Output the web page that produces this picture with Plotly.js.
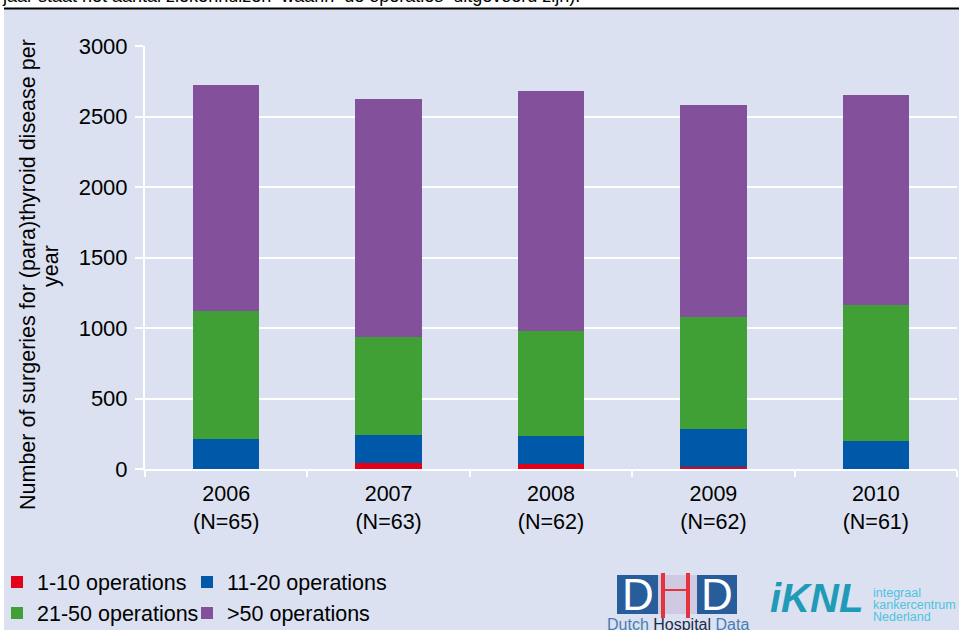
<!DOCTYPE html>
<html>
<head>
<meta charset="utf-8">
<script src="https://cdn.plot.ly/plotly-3.0.1.min.js"></script>
<style>
  html, body { margin: 0; padding: 0; background: #ffffff; }
  #chart { width: 959px; height: 630px; }
</style>
</head>
<body>
<div id="chart"></div>
<script>
// ---- data ----
const categories = ["2006<br>(N=65)", "2007<br>(N=63)", "2008<br>(N=62)", "2009<br>(N=62)", "2010<br>(N=61)"];
const ops_1_10   = [0, 44, 32, 12, 0];
const ops_11_20  = [216, 200, 200, 275, 202];
const ops_21_50  = [906, 694, 749, 793, 963];
const ops_gt50   = [1601, 1686, 1700, 1501, 1487];
const seriesNames = ["1-10 operations", "11-20 operations", "21-50 operations", ">50 operations"];
const yTicks = [0, 500, 1000, 1500, 2000, 2500, 3000];
const yTitleLines = ["Number of surgeries for (para)thyroid disease per", "year"];

// ---- layout helpers (pixel -> paper) ----
const W = 959, H = 630;
const M = { l: 145, r: 2, t: 46, b: 161, autoexpand: false };
const PW = W - M.l - M.r, PH = H - M.t - M.b;
const px = x => (x - M.l) / PW;
const py = y => 1 - (y - M.t) / PH;

const FONT = "Arial, 'Liberation Sans', sans-serif";
const colors = ["#e2001a", "#0058a8", "#40a035", "#83509b"];
const values = [ops_1_10, ops_11_20, ops_21_50, ops_gt50];
const legendIds = ["legend", "legend2", "legend3", "legend4"];
const legendPos = [[-3, 582], [187, 582], [-3, 613], [187, 613]];

const traces = values.map((v, i) => ({
  type: "bar",
  x: categories,
  y: v,
  name: seriesNames[i],
  marker: { color: colors[i], line: { width: 0 } },
  legend: legendIds[i],
  hoverinfo: "x+y+name"
}));

const layout = {
  width: W, height: H,
  margin: M,
  paper_bgcolor: "#ffffff",
  plot_bgcolor: "#d6dff2",
  barmode: "stack",
  bargap: 0.59,
  font: { family: FONT, size: 21, color: "#000" },
  showlegend: true,
  xaxis: {
    type: "category",
    showline: true, linecolor: "#ffffff", linewidth: 2,
    ticks: "outside", tickson: "boundaries", ticklen: 6, tickwidth: 2, tickcolor: "#ffffff",
    tickfont: { family: FONT, size: 21.5, color: "#000" },
    ticklabelstandoff: 4,
    showgrid: false, zeroline: false
  },
  yaxis: {
    range: [0, 3000],
    tickvals: yTicks,
    ticktext: yTicks.map(String),
    showline: true, linecolor: "#ffffff", linewidth: 2,
    ticks: "outside", ticklen: 8, tickwidth: 2, tickcolor: "#ffffff",
    tickfont: { family: FONT, size: 22, color: "#000" },
    ticklabelstandoff: 3,
    showgrid: true, gridcolor: "#ffffff", gridwidth: 2,
    zeroline: false
  },
  shapes: [
    // light blue chart panel
    { type: "rect", xref: "paper", yref: "paper", layer: "below",
      x0: px(4), x1: px(960), y0: py(631), y1: py(9),
      fillcolor: "#dbe1f0", line: { width: 0 } },
    // black rule at the top
    { type: "line", xref: "paper", yref: "paper",
      x0: px(4), x1: px(960), y0: py(8.5), y1: py(8.5),
      line: { color: "#000000", width: 1.8 } },
    // DHD logo boxes
    { type: "rect", xref: "paper", yref: "paper",
      x0: px(617), x1: px(658), y0: py(614), y1: py(575),
      fillcolor: "#275d9a", line: { width: 0 } },
    { type: "rect", xref: "paper", yref: "paper",
      x0: px(658), x1: px(697), y0: py(614), y1: py(575),
      fillcolor: "#cfc9e2", line: { width: 0 } },
    { type: "rect", xref: "paper", yref: "paper",
      x0: px(697), x1: px(737), y0: py(614), y1: py(575),
      fillcolor: "#275d9a", line: { width: 0 } },
    { type: "line", xref: "paper", yref: "paper",
      x0: px(663), x1: px(663), y0: py(618), y1: py(573),
      line: { color: "#e5323f", width: 4 } },
    { type: "line", xref: "paper", yref: "paper",
      x0: px(688), x1: px(688), y0: py(618), y1: py(573),
      line: { color: "#e5323f", width: 4 } },
    { type: "line", xref: "paper", yref: "paper",
      x0: px(665), x1: px(686), y0: py(590), y1: py(590),
      line: { color: "#e5323f", width: 2 } }
  ],
  annotations: [
    // y-axis title (two centred lines, rotated)
    { xref: "paper", yref: "paper", x: px(28), y: py(275), xanchor: "center", yanchor: "middle",
      textangle: -90, text: yTitleLines[0], showarrow: false,
      font: { family: FONT, size: 21.5, color: "#000" } },
    { xref: "paper", yref: "paper", x: px(51), y: py(266), xanchor: "center", yanchor: "middle",
      textangle: -90, text: yTitleLines[1], showarrow: false,
      font: { family: FONT, size: 21.5, color: "#000" } },
    // cut-off caption line at the top
    { xref: "paper", yref: "paper", x: px(0), y: py(8), xanchor: "left", yanchor: "bottom",
      text: "jaar staat het aantal ziekenhuizen  waarin  de operaties  uitgevoerd zijn).",
      showarrow: false, font: { family: FONT, size: 18, color: "#000" } },
    // logos
    { xref: "paper", yref: "paper", x: px(637.5), y: py(594), xanchor: "center", yanchor: "middle",
      text: "D", showarrow: false, font: { family: FONT, size: 44, color: "#ffffff" } },
    { xref: "paper", yref: "paper", x: px(717), y: py(594), xanchor: "center", yanchor: "middle",
      text: "D", showarrow: false, font: { family: FONT, size: 44, color: "#ffffff" } },
    { xref: "paper", yref: "paper", x: px(605), y: py(624), xanchor: "left", yanchor: "middle",
      text: "<span style='color:#4a7db5'>Dutch</span> <span style='color:#1c2a4a'>Hospital</span> <span style='color:#4a7db5'>Data</span>",
      showarrow: false, font: { family: FONT, size: 16, color: "#4a7db5" } },
    { xref: "paper", yref: "paper", x: px(768), y: py(598), xanchor: "left", yanchor: "middle",
      text: "<b><i>iKNL</i></b>", showarrow: false,
      font: { family: FONT, size: 40, color: "#1f9bb8" } },
    { xref: "paper", yref: "paper", x: px(871), y: py(593), xanchor: "left", yanchor: "middle",
      text: "integraal", showarrow: false, font: { family: FONT, size: 12.5, color: "#4fc3e0" } },
    { xref: "paper", yref: "paper", x: px(871), y: py(605), xanchor: "left", yanchor: "middle",
      text: "kankercentrum", showarrow: false, font: { family: FONT, size: 12.5, color: "#4fc3e0" } },
    { xref: "paper", yref: "paper", x: px(871), y: py(617), xanchor: "left", yanchor: "middle",
      text: "Nederland", showarrow: false, font: { family: FONT, size: 12.5, color: "#4fc3e0" } }
  ]
};

legendIds.forEach((id, i) => {
  layout[id] = {
    orientation: "h",
    x: px(legendPos[i][0]), y: py(legendPos[i][1]),
    xanchor: "left", yanchor: "middle",
    bgcolor: "rgba(0,0,0,0)",
    borderwidth: 0,
    font: { family: FONT, size: 21.5, color: "#000" },
    itemwidth: 30
  };
});

Plotly.newPlot("chart", traces, layout, { displayModeBar: false, staticPlot: true });
</script>
</body>
</html>
